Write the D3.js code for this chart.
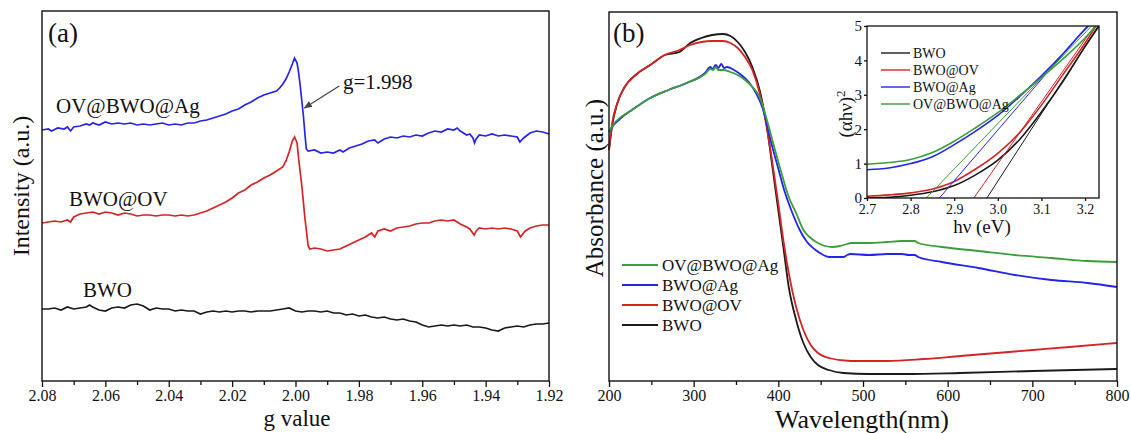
<!DOCTYPE html>
<meta charset="utf-8">
<style>
  body { margin: 0; background: #fff; }
  svg text { font-family: "Liberation Serif", "Times New Roman", serif; fill: #111; }
</style>
<body>
<svg width="1131" height="433"></svg>
<script src="https://d3js.org/d3.v7.min.js"></script>
<script>

// ---- panel (a): EPR, [g value, intensity a.u.]
var eprBWO = [[2.080,72],[2.078,72],[2.076,73],[2.074,71],[2.072,74],[2.070,72],[2.068,73],[2.066,74],[2.065,76],[2.064,74],[2.062,71],[2.060,70],[2.058,73],[2.056,74],[2.054,73],[2.052,76],[2.050,77],[2.048,75],[2.046,71],[2.044,73],[2.042,72],[2.040,72],[2.038,70],[2.036,71],[2.034,70],[2.032,70],[2.030,67],[2.028,69],[2.026,70],[2.024,69],[2.022,70],[2.020,69],[2.018,70],[2.016,70],[2.014,69],[2.012,70],[2.010,70],[2.008,70],[2.006,71],[2.004,72],[2.002,73],[2.000,70],[1.998,69],[1.996,70],[1.994,70],[1.992,69],[1.990,70],[1.988,68],[1.986,68],[1.984,66],[1.982,67],[1.980,65],[1.978,66],[1.976,64],[1.974,63],[1.972,64],[1.970,62],[1.968,61],[1.966,62],[1.964,60],[1.962,59],[1.960,56],[1.958,54],[1.956,55],[1.954,56],[1.952,55],[1.950,56],[1.948,55],[1.946,56],[1.944,54],[1.942,54],[1.940,53],[1.938,51],[1.936,50],[1.934,53],[1.932,54],[1.930,55],[1.928,54],[1.926,56],[1.924,57],[1.922,57],[1.920,58]];

var eprBWOOV = [[2.080,158],[2.078,159],[2.076,160],[2.074,159],[2.072,161],[2.071,159],[2.070,164],[2.068,167],[2.066,168],[2.064,169],[2.062,167],[2.060,169],[2.058,168],[2.056,166],[2.054,168],[2.052,167],[2.050,165],[2.048,166],[2.046,166],[2.044,165],[2.042,166],[2.040,166],[2.038,165],[2.036,166],[2.034,165],[2.032,166],[2.030,168],[2.028,170],[2.026,173],[2.024,176],[2.022,179],[2.020,183],[2.018,188],[2.016,191],[2.014,196],[2.012,199],[2.010,203],[2.008,206],[2.006,210],[2.004,214],[2.003,220],[2.002,229],[2.001,240],[2.0003,244],[1.9995,238],[1.999,222],[1.998,195],[1.997,162],[1.996,135],[1.9955,132],[1.994,133],[1.992,132],[1.990,130],[1.988,131],[1.986,132],[1.984,135],[1.982,138],[1.980,141],[1.978,144],[1.976,148],[1.975,144],[1.974,150],[1.972,152],[1.970,150],[1.968,153],[1.966,154],[1.964,155],[1.962,157],[1.960,158],[1.958,158],[1.956,160],[1.954,161],[1.952,160],[1.950,161],[1.948,157],[1.946,154],[1.945,152],[1.9436,146],[1.943,150],[1.942,153],[1.940,152],[1.938,153],[1.936,152],[1.934,153],[1.932,152],[1.930,150],[1.929,144],[1.9275,150],[1.926,153],[1.924,155],[1.922,156],[1.920,156]];

var eprOVBWOAg = [[2.080,251],[2.078,252],[2.077,250],[2.075,253],[2.073,252],[2.072,254],[2.071,250],[2.070,254],[2.068,255],[2.066,257],[2.065,256],[2.064,258],[2.062,256],[2.060,259],[2.058,257],[2.056,258],[2.054,257],[2.052,258],[2.050,256],[2.048,257],[2.046,256],[2.044,257],[2.042,258],[2.040,256],[2.038,257],[2.036,256],[2.034,258],[2.032,258],[2.030,260],[2.028,261],[2.026,263],[2.024,265],[2.022,267],[2.020,270],[2.018,272],[2.016,276],[2.014,279],[2.012,283],[2.010,286],[2.008,288],[2.006,290],[2.005,293],[2.004,297],[2.003,302],[2.002,309],[2.001,317],[2.0003,323],[1.9995,318],[1.999,308],[1.9985,295],[1.998,280],[1.9975,265],[1.997,246],[1.9966,232],[1.996,230],[1.994,231],[1.992,228],[1.990,229],[1.988,228],[1.986,231],[1.985,229],[1.983,233],[1.981,235],[1.979,237],[1.977,240],[1.975,241],[1.974,238],[1.972,242],[1.970,244],[1.968,243],[1.966,245],[1.964,244],[1.962,246],[1.960,245],[1.958,248],[1.956,250],[1.954,249],[1.952,252],[1.950,251],[1.949,253],[1.948,250],[1.946,246],[1.945,247],[1.944,243],[1.9435,238],[1.943,242],[1.942,246],[1.940,245],[1.938,247],[1.936,245],[1.934,246],[1.932,245],[1.930,244],[1.9292,239],[1.928,243],[1.926,248],[1.924,250],[1.922,249],[1.920,247]];

var gTicks = [2.08, 2.06, 2.04, 2.02, 2.00, 1.98, 1.96, 1.94, 1.92];
var gMinor = [2.07, 2.05, 2.03, 2.01, 1.99, 1.97, 1.95, 1.93];

// ---- panel (b): UV-vis, [wavelength nm, absorbance a.u.]
var uvBWO = [[200,2.31],[203.4,2.54],[209.9,2.78],[218.5,2.94],[231.4,3.06],[248.7,3.16],[265.9,3.26],[283.1,3.29],[296,3.38],[309,3.43],[321.9,3.46],[334.8,3.47],[343.4,3.45],[352,3.39],[360.7,3.29],[369.3,3.14],[377.9,2.91],[386.5,2.54],[393,2.14],[399.4,1.74],[405.9,1.34],[412.3,0.94],[421,0.61],[429.6,0.38],[438.2,0.24],[446.8,0.16],[459.7,0.11],[476.9,0.08],[507.1,0.07],[550.2,0.07],[614.8,0.08],[700.9,0.10],[800,0.12]];
var uvBWOOV = [[200,2.31],[203.4,2.56],[209.9,2.78],[218.5,2.94],[231.4,3.06],[248.7,3.16],[265.9,3.26],[283.1,3.31],[296,3.36],[309,3.39],[321.9,3.40],[334.8,3.40],[343.4,3.38],[352,3.33],[360.7,3.24],[369.3,3.11],[377.9,2.88],[386.5,2.53],[393,2.18],[399.4,1.81],[405.9,1.41],[412.3,1.08],[421,0.74],[429.6,0.51],[438.2,0.36],[446.8,0.28],[459.7,0.23],[485.6,0.20],[528.6,0.20],[571.7,0.22],[614.8,0.25],[657.8,0.28],[700.9,0.31],[744,0.34],[800,0.38]];
var uvBWOAg = [[200,2.49],[205.6,2.56],[214.2,2.63],[227.1,2.71],[248.7,2.83],[270.2,2.91],[291.7,2.98],[313.3,3.08],[319.7,3.14],[322,3.12],[326.2,3.16],[329,3.13],[332.7,3.17],[336,3.13],[339.1,3.14],[347.7,3.11],[356.3,3.06],[365,2.99],[373.6,2.88],[382.2,2.71],[390.8,2.41],[399.4,2.14],[408,1.88],[416.6,1.68],[425.3,1.51],[433.9,1.39],[442.5,1.32],[451.1,1.27],[459.7,1.24],[468.3,1.24],[476.9,1.24],[481.2,1.26],[485.6,1.27],[507.1,1.26],[528.6,1.27],[545.9,1.27],[554.5,1.26],[560.9,1.26],[565.2,1.24],[593.2,1.19],[636.3,1.13],[679.4,1.06],[722.5,1.01],[765.5,0.98],[800,0.94]];
var uvOVBWOAg = [[200,2.49],[205.6,2.57],[214.2,2.64],[227.1,2.71],[248.7,2.83],[270.2,2.91],[291.7,2.98],[313.3,3.07],[319.7,3.12],[323,3.11],[326.2,3.14],[329,3.11],[334.8,3.11],[343.4,3.09],[352,3.06],[360.7,3.01],[369.3,2.94],[377.9,2.84],[386.5,2.61],[395.1,2.34],[403.7,2.08],[412.3,1.84],[421,1.68],[429.6,1.51],[438.2,1.43],[446.8,1.38],[455.4,1.35],[464,1.34],[472.6,1.35],[481.2,1.37],[485.6,1.38],[507.1,1.38],[528.6,1.39],[545.9,1.40],[554.5,1.40],[560.9,1.40],[565.2,1.38],[593.2,1.34],[636.3,1.30],[679.4,1.26],[722.5,1.23],[765.5,1.20],[800,1.19]];

var wlTicks = [200, 300, 400, 500, 600, 700, 800];
var wlMinor = [250, 350, 450, 550, 650, 750];

// ---- inset: Tauc plot, [hv eV, (ahv)^2]
var taucBWO = [[2.70,0.0],[2.75,0.02],[2.80,0.08],[2.85,0.18],[2.90,0.36],[2.95,0.68],[3.00,1.10],[3.05,1.70],[3.10,2.50],[3.15,3.40],[3.20,4.40],[3.232,5.0]];
var taucBWOOV = [[2.70,0.05],[2.75,0.09],[2.80,0.15],[2.85,0.26],[2.90,0.48],[2.95,0.85],[3.00,1.30],[3.05,1.90],[3.10,2.70],[3.15,3.60],[3.20,4.50],[3.225,5.0]];
var taucBWOAg = [[2.70,0.82],[2.75,0.87],[2.80,1.00],[2.85,1.20],[2.90,1.55],[2.95,1.95],[3.00,2.40],[3.05,2.95],[3.10,3.55],[3.15,4.20],[3.20,4.90],[3.208,5.0]];
var taucOVBWOAg = [[2.70,0.98],[2.75,1.03],[2.80,1.12],[2.85,1.32],[2.90,1.65],[2.95,2.05],[3.00,2.48],[3.05,2.98],[3.10,3.50],[3.15,4.05],[3.20,4.65],[3.225,5.0]];
// tangent lines [[Eg,0],[hv,5]]
var fitBWO = [[2.975,0],[3.23,5]];
var fitBWOOV = [[2.945,0],[3.222,5]];
var fitBWOAg = [[2.866,0],[3.205,5]];
var fitOVBWOAg = [[2.836,0],[3.215,5]];
var hvTicks = [2.7, 2.8, 2.9, 3.0, 3.1, 3.2];
var tYTicks = [0, 1, 2, 3, 4, 5];

var names = ["BWO", "BWO@OV", "BWO@Ag", "OV@BWO@Ag"];
var colors = { "BWO": "#1a1a1a", "BWO@OV": "#d42424", "BWO@Ag": "#2424ee", "OV@BWO@Ag": "#3a9e3a" };
var serif = '"Liberation Serif", "Times New Roman", serif';

var svg = d3.select("svg");

function frame(g, x0, x1, y0, y1, w) {
  g.append("rect").attr("x", x0).attr("y", y0).attr("width", x1 - x0).attr("height", y1 - y0)
    .attr("fill", "none").attr("stroke", "#111").attr("stroke-width", w);
}

function bottomAxis(g, scale, y, major, minor, fmt, fs, big, small) {
  var ax = g.append("g").attr("transform", "translate(0," + y + ")")
    .call(d3.axisBottom(scale).tickValues(major).tickSize(big).tickPadding(3).tickFormat(fmt))
    .attr("font-family", serif);
  ax.select(".domain").remove();
  ax.selectAll("text").attr("font-size", fs).attr("fill", "#111");
  ax.selectAll("line").attr("stroke", "#111").attr("stroke-width", 1.3);
  if (minor) {
    var mx = g.append("g").attr("transform", "translate(0," + y + ")")
      .call(d3.axisBottom(scale).tickValues(minor).tickSize(small).tickFormat(""));
    mx.select(".domain").remove();
    mx.selectAll("line").attr("stroke", "#111").attr("stroke-width", 1.3);
  }
}

// ================= panel (a)
var xa = d3.scaleLinear().domain([2.08, 1.92]).range([42, 549]);
var ya = d3.scaleLinear().domain([0, 371]).range([381, 10]);
var pa = svg.append("g");
var lineA = d3.line().x(d => xa(d[0])).y(d => ya(d[1]));

[["BWO", eprBWO], ["BWO@OV", eprBWOOV], ["BWO@Ag", eprOVBWOAg]].forEach(function(s) {
  pa.append("path").attr("d", lineA(s[1])).attr("fill", "none")
    .attr("stroke", colors[s[0]]).attr("stroke-width", 1.7);
});
frame(pa, 42, 549, 11, 381, 1.4);
bottomAxis(pa, xa, 381, gTicks, gMinor, d3.format(".2f"), 16, 6, 4);

pa.append("text").attr("x", 48).attr("y", 42).attr("font-size", 27).text("(a)");
pa.append("text").attr("x", 56).attr("y", 113).attr("font-size", 21).text("OV@BWO@Ag");
pa.append("text").attr("x", 69).attr("y", 206).attr("font-size", 21).text("BWO@OV");
pa.append("text").attr("x", 83).attr("y", 297).attr("font-size", 21).text("BWO");
pa.append("text").attr("x", 297).attr("y", 426).attr("text-anchor", "middle").attr("font-size", 23).text("g value");
pa.append("text").attr("transform", "translate(29,186) rotate(-90)").attr("text-anchor", "middle")
  .attr("font-size", 24).text("Intensity (a.u.)");

// g = 1.998 annotation
svg.append("defs").append("marker").attr("id", "arr").attr("viewBox", "0 0 10 10")
  .attr("refX", 9).attr("refY", 5).attr("markerWidth", 7).attr("markerHeight", 7).attr("orient", "auto")
  .append("path").attr("d", "M0,1 L10,5 L0,9 Z").attr("fill", "#444");
pa.append("line").attr("x1", xa(1.9862)).attr("y1", ya(295)).attr("x2", xa(1.9972)).attr("y2", ya(273))
  .attr("stroke", "#444").attr("stroke-width", 1.2).attr("marker-end", "url(#arr)");
pa.append("text").attr("x", xa(1.9850)).attr("y", ya(292)).attr("font-size", 21).text("g=1.998");

// ================= panel (b)
var xb = d3.scaleLinear().domain([200, 800]).range([609, 1117]);
var yb = d3.scaleLinear().domain([0, 3.71]).range([381, 10]);
var pb = svg.append("g");
var lineB = d3.line().x(d => xb(d[0])).y(d => yb(d[1])).curve(d3.curveMonotoneX);
var uv = { "BWO": uvBWO, "BWO@OV": uvBWOOV, "BWO@Ag": uvBWOAg, "OV@BWO@Ag": uvOVBWOAg };
names.forEach(function(n) {
  pb.append("path").attr("d", lineB(uv[n])).attr("fill", "none").attr("stroke", colors[n]).attr("stroke-width", 1.8);
});
frame(pb, 609, 1117, 12, 381, 1.4);
bottomAxis(pb, xb, 381, wlTicks, wlMinor, d3.format("d"), 16, 6, 4);
pb.append("text").attr("x", 613).attr("y", 42).attr("font-size", 27).text("(b)");
pb.append("text").attr("x", 862).attr("y", 428).attr("text-anchor", "middle").attr("font-size", 26).text("Wavelength(nm)");
pb.append("text").attr("transform", "translate(603,188) rotate(-90)").attr("text-anchor", "middle")
  .attr("font-size", 25).text("Absorbance (a.u.)");

// main legend
var legOrder = ["OV@BWO@Ag", "BWO@Ag", "BWO@OV", "BWO"];
var leg = pb.append("g");
legOrder.forEach(function(n, i) {
  var y = 265 + i * 20;
  leg.append("line").attr("x1", 622).attr("x2", 658).attr("y1", y).attr("y2", y)
    .attr("stroke", colors[n]).attr("stroke-width", 1.8);
  leg.append("text").attr("x", 662).attr("y", y + 6).attr("font-size", 17).text(n);
});

// ================= inset
var xi = d3.scaleLinear().domain([2.7, 3.232]).range([867, 1099]);
var yi = d3.scaleLinear().domain([0, 5]).range([198, 26]);
var pi = svg.append("g");
pi.append("rect").attr("x", 867).attr("y", 26).attr("width", 232).attr("height", 172).attr("fill", "#fff");
pi.append("clipPath").attr("id", "ic").append("rect").attr("x", 867).attr("y", 26).attr("width", 232).attr("height", 172);
var lineI = d3.line().x(d => xi(d[0])).y(d => yi(d[1]));
var lineIC = d3.line().x(d => xi(d[0])).y(d => yi(d[1])).curve(d3.curveMonotoneX);
var tauc = { "BWO": taucBWO, "BWO@OV": taucBWOOV, "BWO@Ag": taucBWOAg, "OV@BWO@Ag": taucOVBWOAg };
var fits = { "BWO": fitBWO, "BWO@OV": fitBWOOV, "BWO@Ag": fitBWOAg, "OV@BWO@Ag": fitOVBWOAg };
var ig = pi.append("g").attr("clip-path", "url(#ic)");
names.forEach(function(n) {
  ig.append("path").attr("d", lineI(fits[n])).attr("fill", "none").attr("stroke", colors[n]).attr("stroke-width", 1);
  ig.append("path").attr("d", lineIC(tauc[n])).attr("fill", "none").attr("stroke", colors[n]).attr("stroke-width", 1.6);
});
frame(pi, 867, 1099, 26, 198, 1.3);
bottomAxis(pi, xi, 198, hvTicks, null, d3.format(".1f"), 14, 3, 0);
var iy = pi.append("g").attr("transform", "translate(867,0)")
  .call(d3.axisLeft(yi).tickValues(tYTicks).tickSize(3).tickPadding(2).tickFormat(d3.format("d")))
  .attr("font-family", serif);
iy.select(".domain").remove();
iy.selectAll("text").attr("font-size", 15).attr("fill", "#111");
iy.selectAll("line").attr("stroke", "#111").attr("stroke-width", 1.3);
pi.append("text").attr("x", 982).attr("y", 233).attr("text-anchor", "middle").attr("font-size", 19).text("hν (eV)");
var yl = pi.append("text").attr("transform", "translate(852,114) rotate(-90)").attr("text-anchor", "middle").attr("font-size", 19);
yl.append("tspan").text("(αhν)");
yl.append("tspan").attr("dy", -7).attr("font-size", 13).text("2");

names.forEach(function(n, i) {
  var y = 53 + i * 17;
  pi.append("line").attr("x1", 881).attr("x2", 910).attr("y1", y).attr("y2", y)
    .attr("stroke", colors[n]).attr("stroke-width", 1.4);
  pi.append("text").attr("x", 913).attr("y", y + 5).attr("font-size", 14).text(n);
});

</script>
</body>
